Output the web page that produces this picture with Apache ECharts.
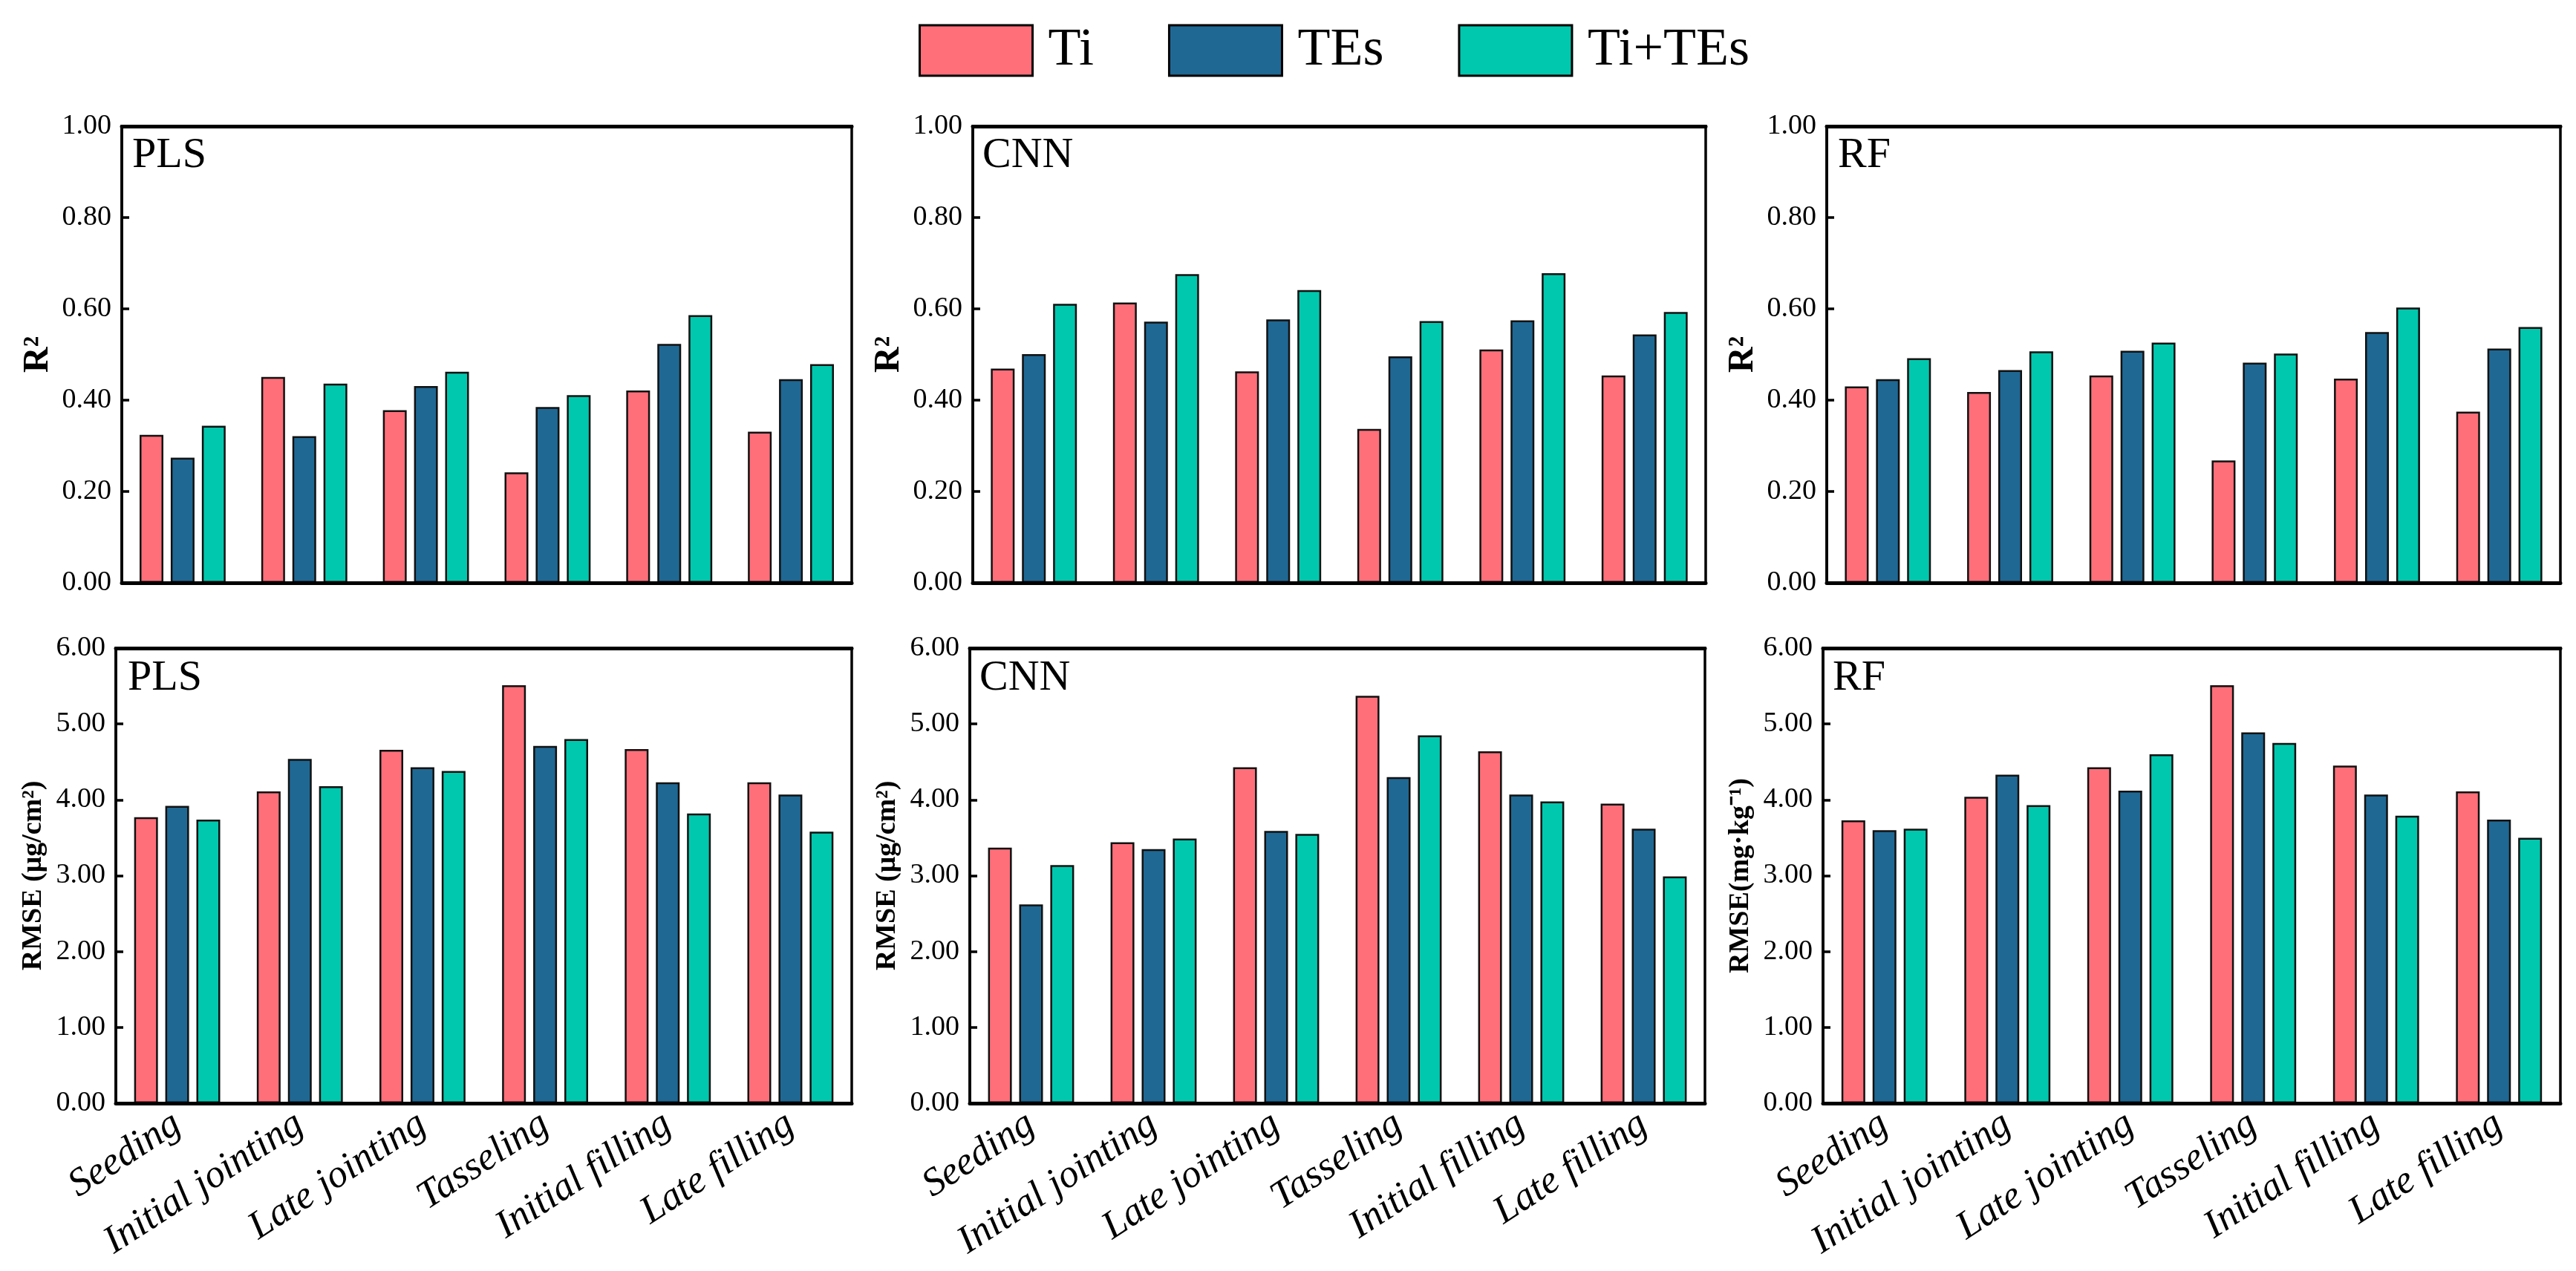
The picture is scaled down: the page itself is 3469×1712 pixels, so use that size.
<!DOCTYPE html>
<html>
<head>
<meta charset="utf-8">
<script src="https://cdn.jsdelivr.net/npm/echarts@6/dist/echarts.min.js"></script>
<style>
html,body{margin:0;padding:0;background:#fff;}
#chart{width:3469px;height:1712px;}
</style>
</head>
<body>
<div id="chart"></div>
<script>
// ---------------- DATA ----------------
const categories = ['Seeding', 'Initial jointing', 'Late jointing', 'Tasseling', 'Initial filling', 'Late filling'];
const seriesNames = ['Ti', 'TEs', 'Ti+TEs'];
const models = ['PLS', 'CNN', 'RF'];

const r2TickLabels = ['0.00', '0.20', '0.40', '0.60', '0.80', '1.00'];
const rmseTickLabels = ['0.00', '1.00', '2.00', '3.00', '4.00', '5.00', '6.00'];

// R2 values
const plsR2Ti    = [0.324, 0.451, 0.378, 0.242, 0.421, 0.331];
const plsR2TEs   = [0.274, 0.321, 0.431, 0.385, 0.523, 0.446];
const plsR2Both  = [0.344, 0.436, 0.462, 0.411, 0.586, 0.479];

const cnnR2Ti    = [0.469, 0.614, 0.463, 0.337, 0.511, 0.454];
const cnnR2TEs   = [0.501, 0.572, 0.577, 0.496, 0.575, 0.544];
const cnnR2Both  = [0.611, 0.676, 0.641, 0.573, 0.678, 0.593];

const rfR2Ti     = [0.430, 0.418, 0.454, 0.268, 0.447, 0.375];
const rfR2TEs    = [0.446, 0.466, 0.508, 0.482, 0.549, 0.513];
const rfR2Both   = [0.492, 0.507, 0.526, 0.502, 0.603, 0.560];

// RMSE values
const plsRmseTi   = [3.77, 4.11, 4.66, 5.51, 4.67, 4.23];
const plsRmseTEs  = [3.92, 4.54, 4.43, 4.71, 4.23, 4.07];
const plsRmseBoth = [3.74, 4.18, 4.38, 4.80, 3.82, 3.58];

const cnnRmseTi   = [3.37, 3.44, 4.43, 5.37, 4.64, 3.95];
const cnnRmseTEs  = [2.62, 3.35, 3.59, 4.30, 4.07, 3.62];
const cnnRmseBoth = [3.14, 3.49, 3.55, 4.85, 3.98, 2.99];

const rfRmseTi    = [3.73, 4.04, 4.43, 5.51, 4.45, 4.11];
const rfRmseTEs   = [3.60, 4.33, 4.12, 4.89, 4.07, 3.74];
const rfRmseBoth  = [3.62, 3.93, 4.60, 4.75, 3.79, 3.50];

const rmseNames = ['RMSE (\u03bcg/cm\u00b2)', 'RMSE (\u03bcg/cm\u00b2)', 'RMSE(mg\u00b7kg\u207b\u00b9)'];

// ---------------- LAYOUT / STYLE ----------------
const FONT = '"Liberation Serif","Times New Roman",serif';
const colors = ['#FF6F7A', '#1F6894', '#00C8AE'];

const panels = [
  // R2 row
  {left:164, top:170, width:983, height:615, data:[plsR2Ti, plsR2TEs, plsR2Both], kind:'r2', title:'PLS', tx:178, ty:181, yname:'R\u00b2'},
  {left:1310, top:170, width:987, height:615, data:[cnnR2Ti, cnnR2TEs, cnnR2Both], kind:'r2', title:'CNN', tx:1323, ty:181, yname:'R\u00b2'},
  {left:2460, top:170, width:988, height:615, data:[rfR2Ti, rfR2TEs, rfR2Both], kind:'r2', title:'RF', tx:2475, ty:181, yname:'R\u00b2'},
  // RMSE row
  {left:156, top:873, width:991, height:613, data:[plsRmseTi, plsRmseTEs, plsRmseBoth], kind:'rmse', title:'PLS', tx:172, ty:885, yname:rmseNames[0]},
  {left:1306, top:873, width:990, height:613, data:[cnnRmseTi, cnnRmseTEs, cnnRmseBoth], kind:'rmse', title:'CNN', tx:1319, ty:885, yname:rmseNames[1]},
  {left:2455, top:873, width:993, height:613, data:[rfRmseTi, rfRmseTEs, rfRmseBoth], kind:'rmse', title:'RF', tx:2468, ty:885, yname:rmseNames[2]}
];

const grid = [], xAxis = [], yAxis = [], series = [], graphic = [];

panels.forEach((p, i) => {
  grid.push({
    left: p.left, top: p.top, width: p.width, height: p.height,
    containLabel: false, outerBoundsMode: 'none',
    show: true, borderColor: '#000', borderWidth: 3.5, backgroundColor: 'transparent'
  });
  const isR2 = p.kind === 'r2';
  // bottom category axis
  xAxis.push({
    type: 'category', gridIndex: i, data: categories, position: 'bottom', z: 10,
    axisLine: {show: true, lineStyle: {color: '#000', width: 5}},
    axisTick: {show: false},
    axisLabel: {
      show: !isR2, rotate: 33, interval: 0, margin: 24, hideOverlap: false,
      fontFamily: FONT, fontStyle: 'italic', fontSize: 53, color: '#000'
    }
  });
  // top frame axis
  xAxis.push({
    type: 'category', gridIndex: i, data: categories, position: 'top', z: 10,
    axisLine: {show: true, lineStyle: {color: '#000', width: 5}},
    axisTick: {show: false}, axisLabel: {show: false}
  });
  const ticks = isR2 ? r2TickLabels : rmseTickLabels;
  yAxis.push({
    type: 'value', gridIndex: i,
    min: Number(ticks[0]), max: Number(ticks[ticks.length - 1]),
    interval: isR2 ? 0.2 : 1,
    name: p.yname, nameLocation: 'middle', nameGap: isR2 ? 88 : 92,
    nameTextStyle: {fontFamily: FONT, fontWeight: 'bold', fontSize: isR2 ? 48 : 38, color: '#000'},
    axisLine: {show: true, lineStyle: {color: '#000', width: 3.5}},
    axisTick: {show: true, inside: true, length: 10, lineStyle: {color: '#000', width: 3.5}},
    splitLine: {show: false},
    axisLabel: {
      fontFamily: FONT, fontSize: 38, color: '#000', margin: 14,
      formatter: v => v.toFixed(2)
    }
  });
  p.data.forEach((vals, k) => {
    series.push({
      type: 'bar', name: seriesNames[k], xAxisIndex: i * 2, yAxisIndex: i,
      data: vals, barWidth: 32, barGap: '31%',
      itemStyle: {color: colors[k], borderColor: '#111', borderWidth: 2.5},
      emphasis: {disabled: true}
    });
  });
  graphic.push({
    type: 'text', left: p.tx, top: p.ty, z: 20,
    style: {text: p.title, font: '58px ' + FONT, fill: '#000'}
  });
});

const chart = echarts.init(document.getElementById('chart'));
chart.setOption({
  backgroundColor: '#fff',
  animation: false,
  legend: {
    data: seriesNames, left: 1232, top: 27,
    icon: 'rect', itemWidth: 152, itemHeight: 68, itemGap: 100,
    itemStyle: {borderColor: '#000', borderWidth: 3},
    textStyle: {fontFamily: FONT, fontSize: 72, color: '#000', padding: [0, 0, 0, 16]}
  },
  grid, xAxis, yAxis, series, graphic
});
</script>
</body>
</html>
